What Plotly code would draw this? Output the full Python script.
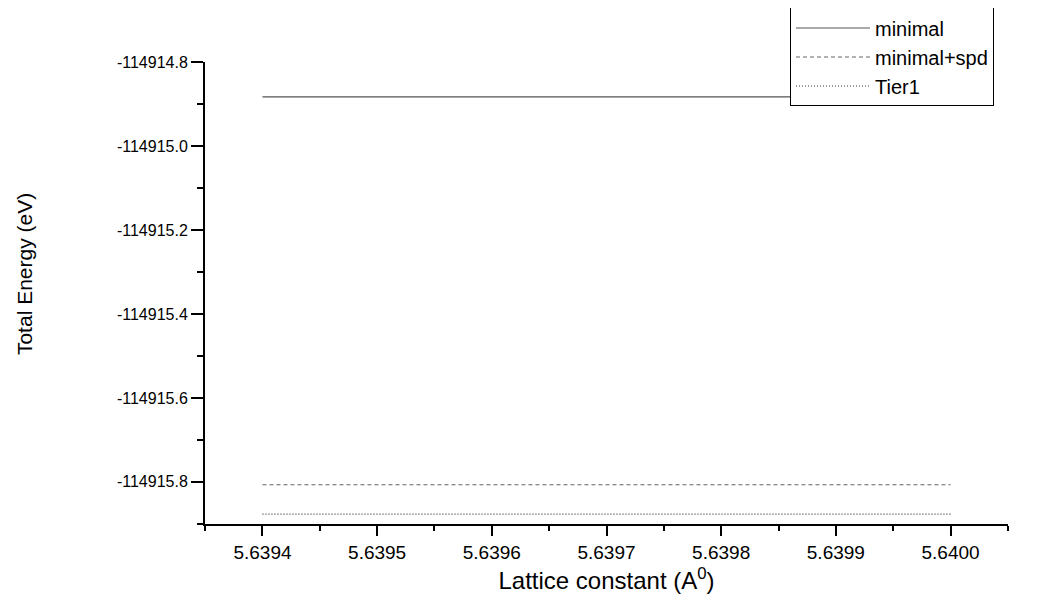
import plotly.graph_objects as go

lattice = [5.6394, 5.6395, 5.6396, 5.6397, 5.6398, 5.6399, 5.6400]
e_minimal = [-114914.8826] * 7
e_minimal_spd = [-114915.807] * 7
e_tier1 = [-114915.877] * 7

series_names = ["minimal", "minimal+spd", "Tier1"]

x_ticks = [5.6394, 5.6395, 5.6396, 5.6397, 5.6398, 5.6399, 5.6400]
x_ticktext = ["5.6394", "5.6395", "5.6396", "5.6397", "5.6398", "5.6399", "5.6400"]
y_ticks = [-114914.8, -114915.0, -114915.2, -114915.4, -114915.6, -114915.8]
y_ticktext = ["-114914.8", "-114915.0", "-114915.2", "-114915.4", "-114915.6", "-114915.8"]

FONT = "Liberation Sans, Arial, sans-serif"

fig = go.Figure()
fig.add_trace(go.Scatter(x=lattice, y=e_minimal, mode="lines", name=series_names[0],
                         line=dict(color="#555555", width=1.2, dash="solid")))
fig.add_trace(go.Scatter(x=lattice, y=e_minimal_spd, mode="lines", name=series_names[1],
                         line=dict(color="#666666", width=1.2, dash="4px,3px")))
fig.add_trace(go.Scatter(x=lattice, y=e_tier1, mode="lines", name=series_names[2],
                         line=dict(color="#333333", width=1.2, dash="1px,2px")))

# page body has an 8px margin, so the figure is offset by (8, 8)
fig.update_layout(
    width=1051, height=595,
    margin=dict(l=197, r=51, t=54, b=79, autoexpand=False),
    paper_bgcolor="white", plot_bgcolor="white",
    font=dict(family=FONT, color="black"),
    showlegend=True,
    legend=dict(
        x=0.7285, y=1.118, xanchor="left", yanchor="top",
        bgcolor="white", bordercolor="black", borderwidth=1,
        font=dict(size=20, family=FONT, color="black"),
        itemwidth=74, tracegroupgap=0,
    ),
    annotations=[dict(
        text="Total Energy (eV)", textangle=-90,
        xref="paper", yref="paper", x=-0.2254, y=0.541,
        xanchor="center", yanchor="middle", showarrow=False,
        font=dict(size=21, family=FONT, color="black"),
    )],
)

fig.update_xaxes(
    range=[5.6393499, 5.6400501],
    tickvals=x_ticks, ticktext=x_ticktext,
    tickfont=dict(size=19, family=FONT),
    ticks="outside", ticklen=10, tickwidth=2, tickcolor="black",
    minor=dict(dtick=0.00005, tick0=5.6394, ticks="outside", ticklen=5, tickwidth=2, tickcolor="black"),
    showline=True, linecolor="black", linewidth=2,
    showgrid=False, zeroline=False,
    title=dict(text="Lattice constant (A<sup>0</sup>)", font=dict(size=24, family=FONT), standoff=10),
)
fig.update_yaxes(
    range=[-114915.9005, -114914.7995],
    tickvals=y_ticks, ticktext=y_ticktext,
    tickfont=dict(size=16, family=FONT),
    ticks="outside", ticklen=12, tickwidth=2, tickcolor="black",
    minor=dict(dtick=0.1, tick0=-114914.8, ticks="outside", ticklen=6, tickwidth=2, tickcolor="black"),
    showline=True, linecolor="black", linewidth=2,
    showgrid=False, zeroline=False,
)

fig.write_html("out.html")
